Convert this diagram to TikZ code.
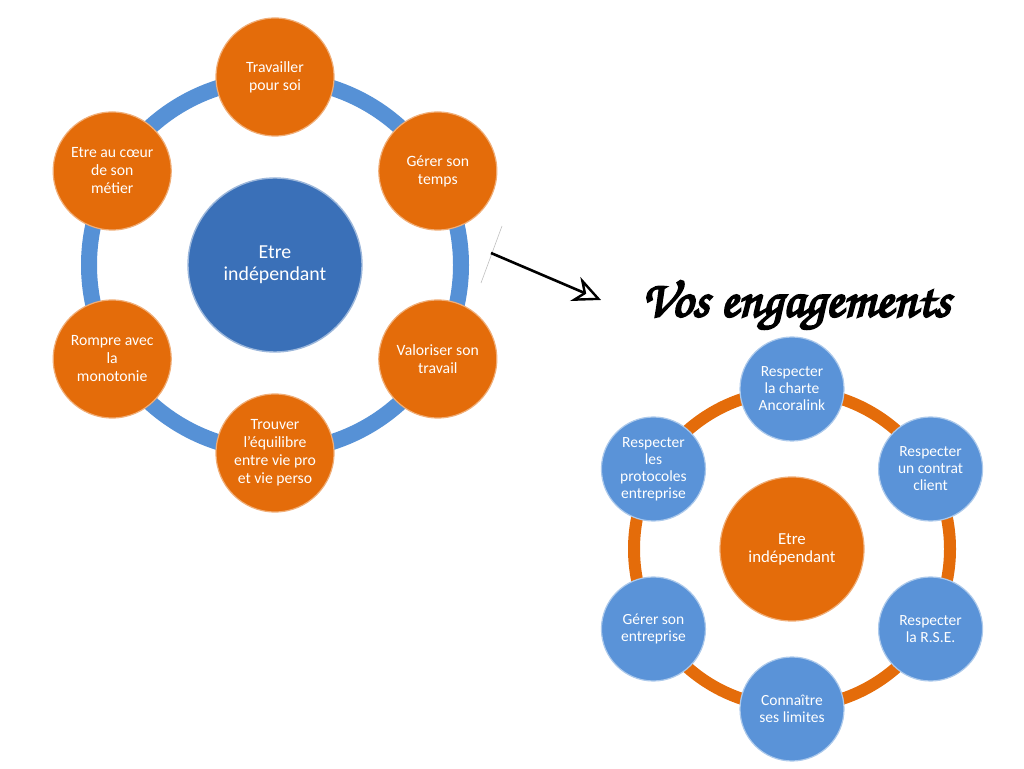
\documentclass[tikz,border=0pt]{standalone}
\usepackage{fontspec}
\setmainfont{Carlito}
\newfontfamily\engfont[FakeBold=4]{texgyrechorus-mediumitalic.otf}
\usetikzlibrary{calc}
\usetikzlibrary{arrows.meta}
\definecolor{ringblue}{RGB}{86,145,214}
\definecolor{hubblue}{RGB}{58,112,184}
\definecolor{petalorange}{RGB}{228,108,10}
\definecolor{petalblue}{RGB}{90,147,216}

\begin{document}
\begin{tikzpicture}[x=1pt, y=1pt,
    petal/.style={circle, fill=petalorange, draw=petalorange!55!white, line width=1.2pt,
        minimum size=118pt, inner sep=0pt, align=center, text=white,
        font=\fontsize{15.7}{18}\selectfont},
    hub/.style={circle, fill=hubblue, draw=hubblue!50!white, line width=1.4pt,
        minimum size=174pt, inner sep=0pt, align=center, text=white,
        font=\fontsize{19.8}{22}\selectfont},
    smallpetal/.style={circle, fill=petalblue, draw=petalblue!50!white, line width=1.2pt,
        minimum size=104pt, inner sep=0pt, align=center, text=white,
        font=\fontsize{15.5}{17}\selectfont},
    smallhub/.style={circle, fill=petalorange, draw=petalorange!55!white, line width=1.2pt,
        minimum size=144pt, inner sep=0pt, align=center, text=white,
        font=\fontsize{16.8}{18}\selectfont}]
    \useasboundingbox (0, 0) rectangle (1024, 768);

    % left cycle
    \coordinate (L) at (275, 503);
    \draw[ringblue, line width=16pt] (L) circle[radius=186];
    \node[hub] (lhub) at (L) {Etre\\indépendant};
    \def\Lwords{{Travailler\\pour soi}, {Gérer son\\temps}, {Valoriser son\\travail},
        {Trouver\\l’équilibre\\entre vie pro\\et vie perso}, {Rompre avec\\la\\monotonie},
        {Etre au cœur\\de son\\métier}}
    \foreach \w[count=\i from 0] in \Lwords
    {
        \node[petal] (lp\i) at ($(L) + ({90 - 60*\i}:188)$) {\w};
    }

    % right cycle
    \coordinate (R) at (792, 219);
    \draw[petalorange, line width=12pt] (R) circle[radius=158];
    \node[smallhub] (rhub) at (R) {Etre\\indépendant};
    \def\Rwords{{Respecter\\la charte\\Ancoralink}, {Respecter\\un contrat\\client},
        {Respecter\\la R.S.E.}, {Connaître\\ses limites}, {Gérer son\\entreprise},
        {Respecter\\les\\protocoles\\entreprise}}
    \foreach \w[count=\i from 0] in \Rwords
    {
        \node[smallpetal] (rp\i) at ($(R) + ({90 - 60*\i}:160)$) {\w};
    }

    % title and arrow
    \node[font=\engfont\fontsize{52}{52}\selectfont] (title) at (796, 463) {Vos engagements};
    \coordinate (tickA) at (502, 542);
    \coordinate (tickB) at (481, 485);
    \draw[black!25, line width=0.6pt] (tickA) -- (tickB);
    \coordinate (tail) at (491, 515);
    \coordinate (tip) at (601, 468);
    \draw[line width=2.6pt, -{Stealth[open, length=28pt, width=26pt, inset=9pt, line width=2.4pt]}]
        (tail) -- (tip);
\end{tikzpicture}
\end{document}
